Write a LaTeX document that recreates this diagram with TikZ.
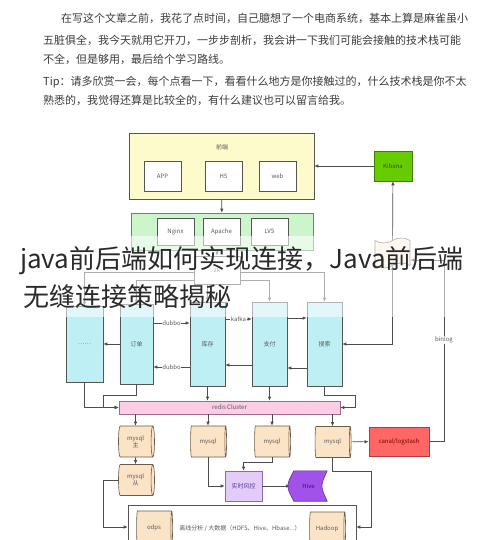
\documentclass[tikz,border=0pt]{standalone}
\usepackage{fontspec}
\setmainfont{Noto Sans CJK SC}
\usetikzlibrary{arrows.meta,shapes.geometric,shapes.symbols}

\definecolor{linegray}{HTML}{4D4D4D}
\definecolor{boxline}{HTML}{555555}
\definecolor{textgray}{HTML}{5A5A5A}
\definecolor{paragray}{HTML}{3C3C3C}
\definecolor{titlegray}{HTML}{2A2A2A}
\definecolor{frontfill}{HTML}{FDFBCB}
\definecolor{gwfill}{HTML}{CCF5CC}
\definecolor{gwline}{HTML}{5B8F5B}
\definecolor{svcfill}{HTML}{BDEFF5}
\definecolor{redisfill}{HTML}{FBCDE6}
\definecolor{redisline}{HTML}{A36A8C}
\definecolor{dbfill}{HTML}{FBE4C6}
\definecolor{dbline}{HTML}{6E5A48}
\definecolor{kibanafill}{HTML}{66CC00}
\definecolor{kibanaline}{HTML}{3F7F00}
\definecolor{kibanatext}{HTML}{2B5200}
\definecolor{canalfill}{HTML}{FF6666}
\definecolor{canalline}{HTML}{B33A3A}
\definecolor{canaltext}{HTML}{7A0000}
\definecolor{riskfill}{HTML}{E3CCFA}
\definecolor{riskline}{HTML}{8A6BB0}
\definecolor{risktext}{HTML}{5E3A8C}
\definecolor{hivefill}{HTML}{A052EB}
\definecolor{hiveline}{HTML}{6A2BAA}
\definecolor{hivetext}{HTML}{3A0F66}
\definecolor{esfill}{HTML}{FCEEDD}

\begin{document}
\begin{tikzpicture}[x=1pt,y=-1pt,
	every node/.style={font=\fontsize{6}{7}\selectfont, text=textgray, inner sep=0pt},
	para/.style={anchor=west, font=\fontsize{11}{13}\selectfont, text=paragray},
	headline/.style={anchor=west, font=\fontsize{26}{30}\selectfont, text=titlegray},
	panel/.style={draw=boxline, line width=0.6pt},
	box/.style={draw=boxline, fill=white, line width=0.6pt, minimum width=37pt, minimum height=30pt},
	svc/.style={draw=boxline, fill=svcfill, line width=0.6pt, minimum width=35pt, minimum height=84pt},
	db/.style={cylinder, shape aspect=0.28, draw=dbline, fill=dbfill, line width=0.6pt, minimum width=31pt, minimum height=36pt, align=center},
	tag/.style={fill=white, inner sep=0.6pt},
	link/.style={draw=linegray, line width=0.7pt, -{Latex[length=4pt,width=3.5pt]}},
	twoway/.style={link, {Latex[length=4pt,width=3.5pt]}-{Latex[length=4pt,width=3.5pt]}},
	]
	\useasboundingbox (0,0) rectangle (490,540);
	\fill[white] (0,0) rectangle (490,540);

	\node[para] (lineone) at (61,18) {在写这个文章之前，我花了点时间，自己臆想了一个电商系统，基本上算是麻雀虽小};
	\node[para] (linetwo) at (43,40) {五脏俱全，我今天就用它开刀，一步步剖析，我会讲一下我们可能会接触的技术栈可能};
	\node[para] (linethree) at (43,59) {不全，但是够用，最后给个学习路线。};
	\node[para] (linefour) at (43,82) {Tip：请多欣赏一会，每个点看一下，看看什么地方是你接触过的，什么技术栈是你不太};
	\node[para] (linefive) at (43,100) {熟悉的，我觉得还算是比较全的，有什么建议也可以留言给我。};

	\node[panel, fill=frontfill, minimum width=185pt, minimum height=66pt] (front) at (221.5,166) {};
	\node (fronttitle) at (222,147) {前端};
	\node[box] (app) at (162.5,176) {APP};
	\node[box] (h5) at (223.5,176) {H5};
	\node[box] (web) at (277.5,176) {web};

	\node[draw=kibanaline, fill=kibanafill, line width=0.6pt, minimum width=38pt, minimum height=30pt, text=kibanatext] (kibana) at (393,166) {Kibana};
	\node[tape, draw=boxline, fill=esfill, line width=0.6pt, minimum width=35pt, minimum height=30pt] (es) at (392.5,253) {};

	\node[panel, draw=gwline, fill=gwfill, minimum width=182pt, minimum height=37pt] (gateway) at (222,231.5) {};
	\node[box, minimum height=27pt] (nginx) at (175.5,231.5) {Nginx};
	\node[box, minimum height=27pt] (apache) at (221.5,231.5) {Apache};
	\node[box, minimum height=27pt] (lvs) at (269.5,231.5) {LVS};
	\node[box, minimum width=46pt, minimum height=28pt] (zk) at (217,270) {zk};

	\node[svc, minimum width=37pt, minimum height=76pt] (dots) at (84.5,344) {……};
	\node[svc, minimum width=33pt, minimum height=80pt] (order) at (136.5,344) {订单};
	\node[svc] (stock) at (207.5,344) {库存};
	\node[svc] (pay) at (269.5,344) {支付};
	\node[svc] (search) at (324.5,344) {搜索};

	\node[draw=redisline, fill=redisfill, line width=0.6pt, minimum width=221pt, minimum height=13pt] (redis) at (229.5,407.5) {redis Cluster};

	\node[db] (mysqlmain) at (135.5,441.5) {mysql\\主};
	\node[db] (mysqltwo) at (208,441.5) {mysql};
	\node[db] (mysqlthree) at (272,441.5) {mysql};
	\node[db] (mysqlfour) at (332.5,442) {mysql};
	\node[db] (mysqlslave) at (135.5,480) {mysql\\从};
	\node[draw=canalline, fill=canalfill, line width=0.6pt, minimum width=60pt, minimum height=29pt, text=canaltext] (canal) at (399,441.5) {canal/logstash};

	\node[draw=riskline, fill=riskfill, line width=0.6pt, minimum width=37pt, minimum height=30pt, text=risktext] (risk) at (243.5,486) {实时风控};
	\node[minimum width=37pt, minimum height=30pt] (hive) at (308.5,486) {};
	\filldraw[fill=hivefill, draw=hiveline, line width=0.6pt] ([xshift=4pt]hive.north west) -- (hive.north east) .. controls ([xshift=-7pt]hive.east) .. (hive.south east) -- ([xshift=4pt]hive.south west) .. controls ([xshift=-4pt]hive.west) .. ([xshift=4pt]hive.north west) -- cycle;
	\node[text=hivetext] (hivelabel) at (hive) {Hive};

	\node[panel, fill=white, minimum width=228pt, minimum height=44pt] (offline) at (242,527) {};
	\node[db, minimum width=34pt] (odps) at (154,528) {odps};
	\node (offlinetext) at (240,528) {离线分析 / 大数据（HDFS、Hive、Hbase...）};
	\node[db, minimum width=34pt] (hadoop) at (327,529) {Hadoop};


	\draw[link] (front) -- (gateway);
	\draw[link] (kibana) -- (front);
	\draw[link] (es) -- (kibana);
	\draw[link] (gateway.south -| zk.north) -- (zk.north);
	\draw[link] ([yshift=-2pt]zk.west) -| (dots.north);
	\draw[link] ([yshift=-10pt]zk.west) -| (order.north);
	\draw[link] ([yshift=-2pt]zk.east) -| (search.north);
	\draw[link] ([yshift=-10pt]zk.east) -| (pay.north);
	\draw[link] (zk.south -| stock.north) -- (stock.north);

	\draw[link] ([yshift=21pt]order.east) -- node[tag] {dubbo} ([yshift=21pt]stock.west);
	\draw[link] ([yshift=-23pt]stock.west) -- node[tag] {dubbo} ([yshift=-23pt]order.east);
	\draw[link] (order) -- (dots);
	\draw[link] ([yshift=25pt]stock.east) -- node[tag] {kafka} ([yshift=25pt]pay.west);
	\draw[link] ([yshift=-21pt]pay.west) -- ([yshift=-21pt]stock.east);
	\draw[link] ([yshift=26pt]pay.east) -- ([yshift=26pt]search.west);
	\draw[link] ([yshift=-24pt]search.west) -- ([yshift=-24pt]pay.east);
	\draw[twoway] (es.south) |- (search.east);

	\coordinate (orderbend) at (103,395);
	\coordinate (searchbend) at (355,395);
	\draw[link] (dots.south) |- (redis.west);
	\draw[link] (order.south) |- (orderbend) |- (redis.west);
	\draw[link] (stock.south) -- (stock.south |- redis.north);
	\draw[link] (pay.south) -- (pay.south |- redis.north);
	\draw[link] (search.south) |- (searchbend) |- (redis.east);

	\draw[link] (mysqlmain.north |- redis.south) -- (mysqlmain.north);
	\draw[link] (mysqltwo.north |- redis.south) -- (mysqltwo.north);
	\draw[link] (mysqlthree.north |- redis.south) -- (mysqlthree.north);
	\draw[link] (mysqlfour.north |- redis.south) -- (mysqlfour.north);
	\draw[link] (mysqlmain) -- (mysqlslave);

	\coordinate (slavebend) at (103,480);
	\coordinate (fourbend) at (371,471);
	\coordinate (binlogbend) at (444,441.5);
	\draw[link] (mysqlslave.west) -- (slavebend) |- (offline.west);
	\draw[link] (mysqltwo.south) |- (risk.west);
	\draw[link] (mysqlthree.south) -- ++(0,5) -| (risk.north);
	\draw[link] (risk) -- (hive);
	\draw[link] (mysqlfour.south) |- (fourbend) |- (offline.east);
	\draw[link] (mysqlfour) -- (canal);
	\draw[link] (canal.east) -- (binlogbend) |- node[tag, pos=0.28] {binlog} ([yshift=-7pt]es.east);


	\fill[white, opacity=0.55] (0,236) rectangle (490,317);
	\node[headline] (title) at (20,261) {java前后端如何实现连接，Java前后端};
	\node[headline] (subtitle) at (23,297) {无缝连接策略揭秘};
\end{tikzpicture}
\end{document}
